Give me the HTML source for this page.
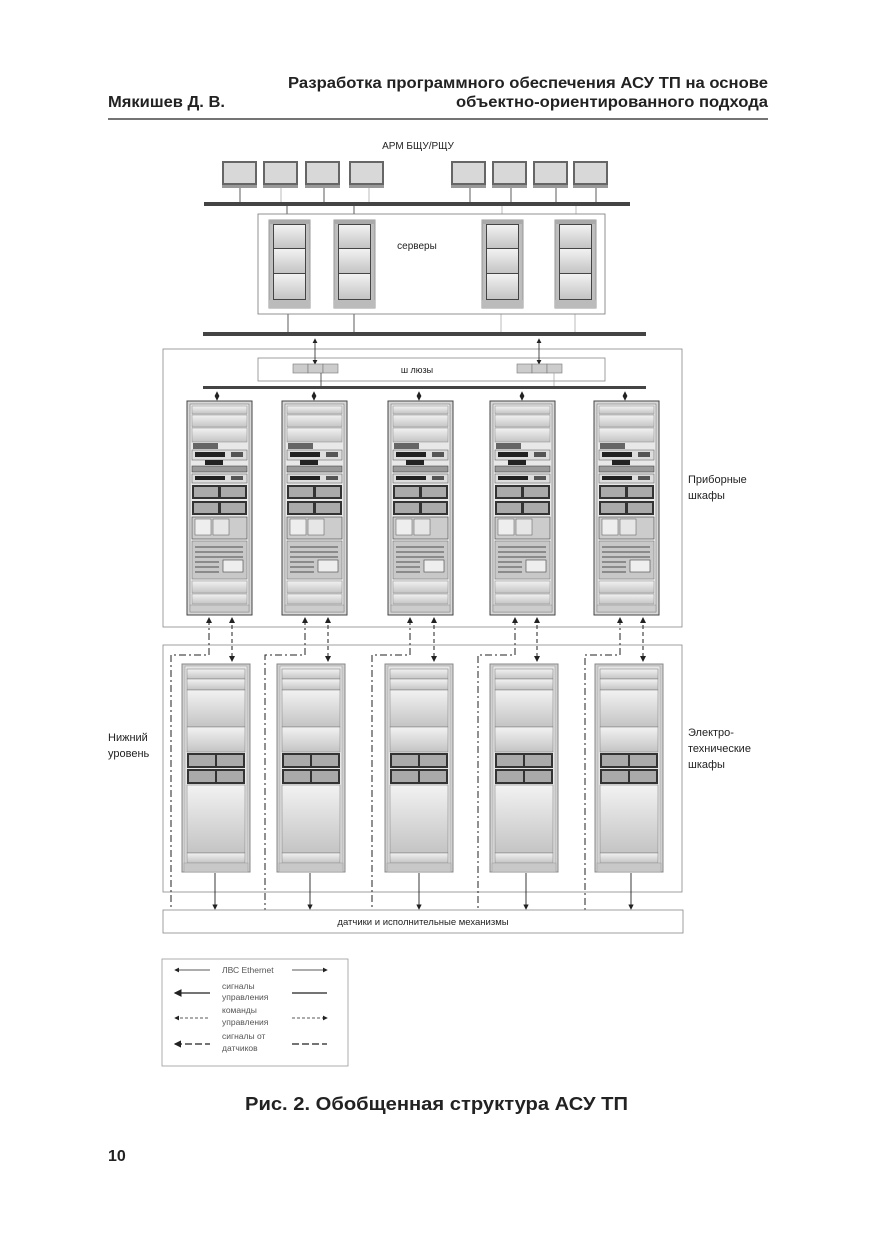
<!DOCTYPE html>
<html><head><meta charset="utf-8"><style>
html,body{margin:0;padding:0;background:#fff;}
svg{display:block;}
text{font-family:"Liberation Sans","DejaVu Sans",sans-serif;}
</style></head><body>
<svg width="875" height="1241" viewBox="0 0 875 1241" xmlns="http://www.w3.org/2000/svg">
<defs>
<linearGradient id="g1" x1="0" y1="0" x2="0" y2="1"><stop offset="0" stop-color="#f2f2f2"/><stop offset="1" stop-color="#c4c4c4"/></linearGradient>
<linearGradient id="gh" x1="0" y1="0" x2="1" y2="0"><stop offset="0" stop-color="#b8b8b8"/><stop offset=".5" stop-color="#eeeeee"/><stop offset="1" stop-color="#b8b8b8"/></linearGradient>
<marker id="ar" markerWidth="6" markerHeight="6" refX="5" refY="3" orient="auto"><path d="M0,0 L6,3 L0,6z" fill="#222"/></marker>
<marker id="al" markerWidth="6" markerHeight="6" refX="1" refY="3" orient="auto"><path d="M6,0 L0,3 L6,6z" fill="#222"/></marker>
<g id="mon"><rect x="0" y="0" width="35" height="24" fill="#666"/><rect x="2" y="2" width="31" height="20" fill="#d8d8d8"/><rect x="0" y="24" width="35" height="3" fill="#999"/></g>
<g id="srv"><rect x="0" y="0" width="41" height="88" fill="url(#gh)" stroke="#999"/><rect x="0" y="0" width="41" height="4" fill="#aaa"/><rect x="0" y="80" width="41" height="8" fill="#bbb"/><rect x="4" y="4" width="33" height="76" fill="#444"/><rect x="5" y="5" width="31" height="23" fill="url(#g1)"/><rect x="5" y="29" width="31" height="24" fill="url(#g1)"/><rect x="5" y="54" width="31" height="25" fill="url(#g1)"/></g>
<g id="gw"><rect x="0" y="0" width="15" height="9" fill="#ccc" stroke="#777" stroke-width=".6"/><rect x="15" y="0" width="15" height="9" fill="#ccc" stroke="#777" stroke-width=".6"/><rect x="30" y="0" width="15" height="9" fill="#ccc" stroke="#777" stroke-width=".6"/></g>
<g id="pc">
<rect x="0" y="0" width="65" height="214" fill="#d8d8d8" stroke="#444"/>
<rect x="3" y="3" width="59" height="208" fill="#e8e8e8" stroke="#777" stroke-width=".6"/>
<rect x="5" y="5" width="55" height="8" fill="url(#g1)" stroke="#888" stroke-width=".5"/>
<rect x="5" y="14" width="55" height="12" fill="url(#g1)" stroke="#888" stroke-width=".5"/>
<rect x="5" y="27" width="55" height="14" fill="url(#g1)" stroke="#888" stroke-width=".5"/>
<rect x="6" y="42" width="25" height="6" fill="#666"/>
<rect x="5" y="49" width="55" height="10" fill="#ddd" stroke="#555" stroke-width=".5"/><rect x="8" y="51" width="30" height="5" fill="#222"/><rect x="44" y="51" width="12" height="5" fill="#555"/>
<rect x="18" y="59" width="18" height="5" fill="#222"/>
<rect x="5" y="65" width="55" height="6" fill="#999" stroke="#333" stroke-width=".5"/>
<rect x="5" y="73" width="55" height="9" fill="#ddd" stroke="#555" stroke-width=".5"/><rect x="8" y="75" width="30" height="4" fill="#222"/><rect x="44" y="75" width="12" height="4" fill="#555"/>
<rect x="5" y="84" width="55" height="14" fill="#333"/><rect x="7" y="86" width="24" height="10" fill="#aaa"/><rect x="34" y="86" width="24" height="10" fill="#aaa"/>
<rect x="5" y="100" width="55" height="14" fill="#333"/><rect x="7" y="102" width="24" height="10" fill="#aaa"/><rect x="34" y="102" width="24" height="10" fill="#aaa"/>
<rect x="5" y="116" width="55" height="22" fill="#ccc" stroke="#444" stroke-width=".6"/><rect x="8" y="118" width="16" height="16" fill="#eee" stroke="#555" stroke-width=".5"/><rect x="26" y="118" width="16" height="16" fill="#e6e6e6" stroke="#555" stroke-width=".5"/>
<rect x="5" y="140" width="55" height="38" fill="#c8c8c8" stroke="#666" stroke-width=".5"/>
<path d="M8,146h48M8,151h48M8,156h48M8,161h24M8,166h24M8,171h24" stroke="#777" stroke-width="1.6"/>
<rect x="36" y="159" width="20" height="12" fill="#eee" stroke="#444" stroke-width=".6"/>
<rect x="5" y="180" width="55" height="12" fill="url(#g1)" stroke="#888" stroke-width=".5"/>
<rect x="5" y="193" width="55" height="10" fill="url(#g1)" stroke="#888" stroke-width=".5"/>
<rect x="3" y="204" width="59" height="7" fill="#ccc" stroke="#888" stroke-width=".5"/>
</g>
<g id="ec">
<rect x="0" y="0" width="68" height="208" fill="#d0d0d0" stroke="#888"/>
<rect x="3" y="2" width="62" height="204" fill="#e6e6e6" stroke="#999" stroke-width=".5"/>
<rect x="5" y="5" width="58" height="10" fill="url(#g1)" stroke="#777" stroke-width=".5"/>
<rect x="5" y="15" width="58" height="11" fill="url(#g1)" stroke="#777" stroke-width=".5"/>
<rect x="5" y="26" width="58" height="37" fill="url(#g1)" stroke="#777" stroke-width=".5"/>
<rect x="5" y="63" width="58" height="25" fill="url(#g1)" stroke="#777" stroke-width=".5"/>
<rect x="5" y="89" width="58" height="15" fill="#333"/><rect x="7" y="91" width="26" height="11" fill="#aaa"/><rect x="35" y="91" width="26" height="11" fill="#aaa"/>
<rect x="5" y="105" width="58" height="15" fill="#333"/><rect x="7" y="107" width="26" height="11" fill="#aaa"/><rect x="35" y="107" width="26" height="11" fill="#aaa"/>
<rect x="5" y="121" width="58" height="68" fill="url(#g1)" stroke="#777" stroke-width=".5"/>
<rect x="5" y="189" width="58" height="10" fill="url(#g1)" stroke="#777" stroke-width=".5"/>
<rect x="2" y="199" width="64" height="9" fill="#c8c8c8" stroke="#999" stroke-width=".5"/>
</g>
</defs>

<text x="768" y="88" font-size="16" font-weight="bold" text-anchor="end" textLength="480" lengthAdjust="spacingAndGlyphs" fill="#222">Разработка программного обеспечения АСУ ТП на основе</text>
<text x="768" y="107" font-size="16" font-weight="bold" text-anchor="end" textLength="312" lengthAdjust="spacingAndGlyphs" fill="#222">объектно-ориентированного подхода</text>
<text x="108" y="107" font-size="16" font-weight="bold" textLength="117" lengthAdjust="spacingAndGlyphs" fill="#222">Мякишев Д. В.</text>
<line x1="108" y1="119" x2="768" y2="119" stroke="#222" stroke-width="1.2"/>

<text x="418" y="149" font-size="10" text-anchor="middle" fill="#222">АРМ БЩУ/РЩУ</text>
<g stroke="#333" stroke-width=".8">
<line x1="240" y1="188" x2="240" y2="203"/><line x1="281" y1="188" x2="281" y2="203" stroke="#aaa"/><line x1="324" y1="188" x2="324" y2="203"/><line x1="369" y1="188" x2="369" y2="203" stroke="#aaa"/>
<line x1="470" y1="188" x2="470" y2="203"/><line x1="511" y1="188" x2="511" y2="203"/><line x1="556" y1="188" x2="556" y2="203"/><line x1="596" y1="188" x2="596" y2="203"/>
<line x1="287" y1="206" x2="287" y2="221"/><line x1="354" y1="206" x2="354" y2="221"/><line x1="502" y1="206" x2="502" y2="221" stroke="#aaa"/><line x1="576" y1="206" x2="576" y2="221" stroke="#aaa"/>
<line x1="288" y1="308" x2="288" y2="333"/><line x1="354" y1="308" x2="354" y2="333"/><line x1="501" y1="308" x2="501" y2="333" stroke="#aaa"/><line x1="575" y1="308" x2="575" y2="333" stroke="#aaa"/>
</g>
<use href="#mon" x="222" y="161"/><use href="#mon" x="263" y="161"/><use href="#mon" x="305" y="161"/><use href="#mon" x="349" y="161"/>
<use href="#mon" x="451" y="161"/><use href="#mon" x="492" y="161"/><use href="#mon" x="533" y="161"/><use href="#mon" x="573" y="161"/>
<rect x="204" y="202" width="426" height="4" fill="#444"/>
<rect x="258" y="214" width="347" height="100" fill="#fff" stroke="#777" stroke-width=".8"/>
<use href="#srv" x="269" y="220"/><use href="#srv" x="334" y="220"/><use href="#srv" x="482" y="220"/><use href="#srv" x="555" y="220"/>
<text x="417" y="249" font-size="10" text-anchor="middle" fill="#222">серверы</text>
<rect x="203" y="332" width="443" height="4" fill="#444"/>

<rect x="163" y="349" width="519" height="278" fill="none" stroke="#888" stroke-width=".8"/>
<rect x="258" y="358" width="347" height="23" fill="#fff" stroke="#888" stroke-width=".8"/>
<line x1="315" y1="339" x2="315" y2="364" stroke="#222" stroke-width=".8" marker-start="url(#al)" marker-end="url(#ar)"/>
<line x1="539" y1="339" x2="539" y2="364" stroke="#222" stroke-width=".8" marker-start="url(#al)" marker-end="url(#ar)"/>
<use href="#gw" x="293" y="364"/><use href="#gw" x="517" y="364"/>
<line x1="321" y1="373" x2="321" y2="386" stroke="#333" stroke-width=".8"/><line x1="554" y1="373" x2="554" y2="386" stroke="#aaa" stroke-width=".8"/>
<text x="417" y="373" font-size="9" text-anchor="middle" fill="#222">ш люзы</text>
<rect x="203" y="386" width="443" height="3" fill="#444"/>
<g stroke="#222" stroke-width=".8">
<line x1="217" y1="392" x2="217" y2="400" marker-start="url(#al)" marker-end="url(#ar)"/>
<line x1="314" y1="392" x2="314" y2="400" marker-start="url(#al)" marker-end="url(#ar)"/>
<line x1="419" y1="392" x2="419" y2="400" marker-start="url(#al)" marker-end="url(#ar)"/>
<line x1="522" y1="392" x2="522" y2="400" marker-start="url(#al)" marker-end="url(#ar)"/>
<line x1="625" y1="392" x2="625" y2="400" marker-start="url(#al)" marker-end="url(#ar)"/>
</g>
<use href="#pc" x="187" y="401"/><use href="#pc" x="282" y="401"/><use href="#pc" x="388" y="401"/><use href="#pc" x="490" y="401"/><use href="#pc" x="594" y="401"/>
<text x="688" y="483" font-size="11" fill="#222">Приборные</text>
<text x="688" y="499" font-size="11" fill="#222">шкафы</text>

<rect x="163" y="645" width="519" height="247" fill="none" stroke="#888" stroke-width=".8"/>
<use href="#ec" x="182" y="664"/><use href="#ec" x="277" y="664"/><use href="#ec" x="385" y="664"/><use href="#ec" x="490" y="664"/><use href="#ec" x="595" y="664"/>
<text x="108" y="741" font-size="11" fill="#222">Нижний</text>
<text x="108" y="757" font-size="11" fill="#222">уровень</text>
<text x="688" y="736" font-size="11" fill="#222">Электро-</text>
<text x="688" y="752" font-size="11" fill="#222">технические</text>
<text x="688" y="768" font-size="11" fill="#222">шкафы</text>

<g fill="none" stroke="#222" stroke-width="1">
<path d="M209,618 V655 H171 V910" stroke-dasharray="7,3,2,3" marker-start="url(#al)"/>
<path d="M305,618 V655 H265 V910" stroke-dasharray="7,3,2,3" marker-start="url(#al)"/>
<path d="M410,618 V655 H372 V910" stroke-dasharray="7,3,2,3" marker-start="url(#al)"/>
<path d="M515,618 V655 H478 V910" stroke-dasharray="7,3,2,3" marker-start="url(#al)"/>
<path d="M620,618 V655 H585 V910" stroke-dasharray="7,3,2,3" marker-start="url(#al)"/>
<g stroke-dasharray="4,3">
<line x1="232" y1="618" x2="232" y2="661" marker-start="url(#al)" marker-end="url(#ar)"/>
<line x1="328" y1="618" x2="328" y2="661" marker-start="url(#al)" marker-end="url(#ar)"/>
<line x1="434" y1="618" x2="434" y2="661" marker-start="url(#al)" marker-end="url(#ar)"/>
<line x1="537" y1="618" x2="537" y2="661" marker-start="url(#al)" marker-end="url(#ar)"/>
<line x1="643" y1="618" x2="643" y2="661" marker-start="url(#al)" marker-end="url(#ar)"/>
</g>
<g stroke-width=".9">
<line x1="215" y1="873" x2="215" y2="909" marker-end="url(#ar)"/>
<line x1="310" y1="873" x2="310" y2="909" marker-end="url(#ar)"/>
<line x1="419" y1="873" x2="419" y2="909" marker-end="url(#ar)"/>
<line x1="526" y1="873" x2="526" y2="909" marker-end="url(#ar)"/>
<line x1="631" y1="873" x2="631" y2="909" marker-end="url(#ar)"/>
</g>
</g>
<rect x="163" y="910" width="520" height="23" fill="#fff" stroke="#888" stroke-width=".8"/>
<text x="423" y="925" font-size="9.5" text-anchor="middle" fill="#222">датчики и исполнительные механизмы</text>

<rect x="162" y="959" width="186" height="107" fill="#fff" stroke="#999" stroke-width=".8"/>
<g fill="none" stroke="#222" stroke-width=".8">
<line x1="175" y1="970" x2="210" y2="970" marker-start="url(#al)"/>
<line x1="292" y1="970" x2="327" y2="970" marker-end="url(#ar)"/>
<line x1="175" y1="993" x2="210" y2="993" stroke-width="1.3" marker-start="url(#al)"/>
<line x1="292" y1="993" x2="327" y2="993" stroke-width="1.3"/>
<line x1="175" y1="1018" x2="210" y2="1018" stroke-dasharray="3,2" marker-start="url(#al)"/>
<line x1="292" y1="1018" x2="327" y2="1018" stroke-dasharray="3,2" marker-end="url(#ar)"/>
<line x1="175" y1="1044" x2="210" y2="1044" stroke-width="1.2" stroke-dasharray="7,3" marker-start="url(#al)"/>
<line x1="292" y1="1044" x2="327" y2="1044" stroke-width="1.2" stroke-dasharray="7,3"/>
</g>
<g font-size="8.5" fill="#555">
<text x="222" y="973">ЛВС Ethernet</text>
<text x="222" y="989">сигналы</text><text x="222" y="1000">управления</text>
<text x="222" y="1013">команды</text><text x="222" y="1025">управления</text>
<text x="222" y="1039">сигналы от</text><text x="222" y="1051">датчиков</text>
</g>

<text x="245" y="1110" font-size="18" font-weight="bold" textLength="383" lengthAdjust="spacingAndGlyphs" fill="#222">Рис. 2. Обобщенная структура АСУ ТП</text>
<text x="108" y="1161" font-size="16" font-weight="bold" fill="#222">10</text>
</svg>
</body></html>
